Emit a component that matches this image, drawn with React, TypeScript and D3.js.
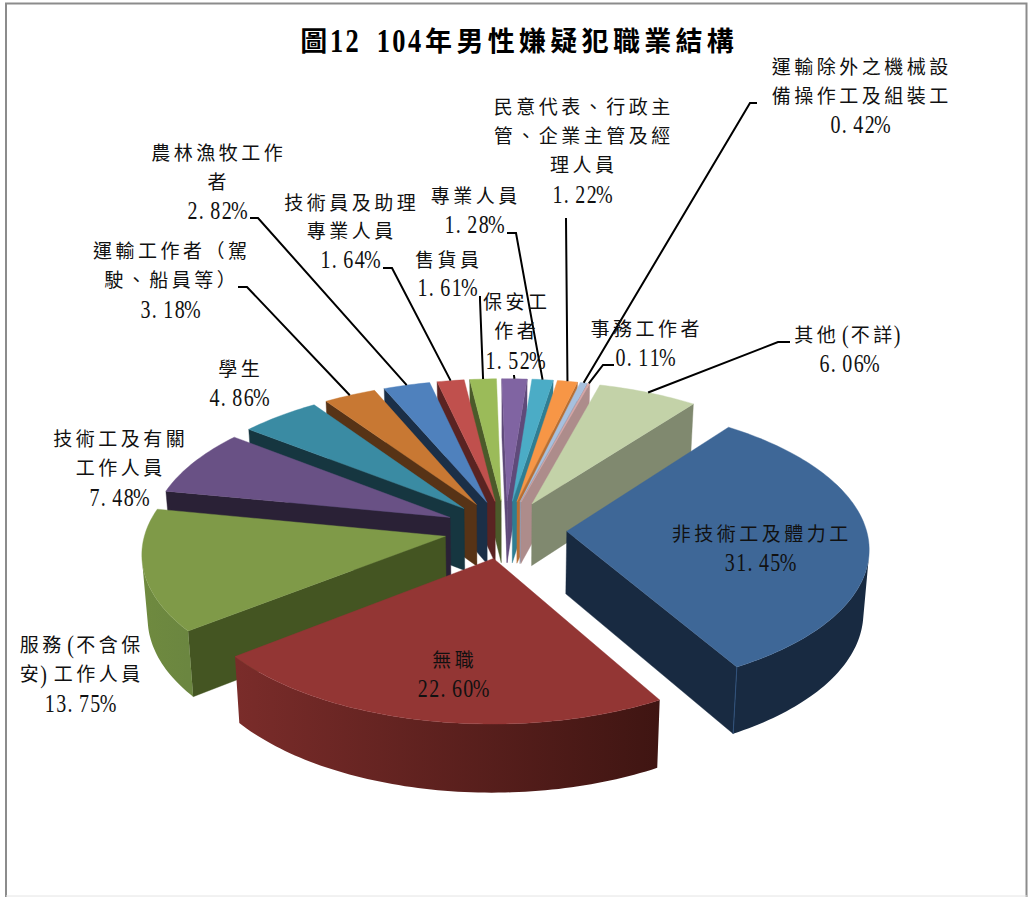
import React from "react";
import * as d3 from "d3";

const W = 1028, H = 897;
const categories = ["非技術工及體力工","無職","服務(不含保安)工作人員","技術工及有關工作人員","學生","運輸工作者（駕駛、船員等）","農林漁牧工作者","技術員及助理專業人員","售貨員","保安工作者","專業人員","民意代表、行政主管、企業主管及經理人員","運輸除外之機械設備操作工及組裝工","事務工作者","其他(不詳)"];
const values = [31.45,22.60,13.75,7.48,4.86,3.18,2.82,1.64,1.61,1.52,1.28,1.22,0.42,0.11,6.06];
const topColors = ["#3E6797","#933634","#7F9A48","#695185","#3A8BA3","#C87833","#4F81BD","#C0504D","#9BBB59","#8064A2","#4BACC6","#F79646","#A7C0DE","#D9A6A5","#C3D2A8"];
const wallColors = ["#182A41","#4a1714","#445522","#2A2136","#163640","#573316","#1B2F47","#5A2322","#4B5A2A","#5F4A7A","#2F7D92","#B86F33","#8E9DB5","#AD8C8B","#80896F"];
const rimFrom = ["#182A41","#3F1512","#6B8640","#2A2136","#163640","#573316","#1B2F47","#5A2322","#4B5A2A","#5F4A7A","#2F7D92","#B86F33","#8E9DB5","#AD8C8B","#80896F"];
const rimTo = ["#182A41","#7A2C2A","#6F8A3F","#2A2136","#163640","#573316","#1B2F47","#5A2322","#4B5A2A","#5F4A7A","#2F7D92","#B86F33","#8E9DB5","#AD8C8B","#80896F"];
const titleText = "圖12 104年男性嫌疑犯職業結構";

// label layout: [lines, centre x, first-line centre y, line gap]
const labelLayout: [string[], number, number, number][] = [
  [["非技術工及體力工","31.45%"],760,534,29],
  [["無職","22.60%"],453,660,29],
  [["服務(不含保","安)工作人員","13.75%"],80,645,29.5],
  [["技術工及有關","工作人員","7.48%"],119,439,29.5],
  [["學生","4.86%"],239,369,29],
  [["運輸工作者（駕","駛、船員等）","3.18%"],170,251,29.5],
  [["農林漁牧工作","者","2.82%"],217,153,29],
  [["技術員及助理","專業人員","1.64%"],350,203,28.5],
  [["售貨員","1.61%"],447,260,28],
  [["保安工","作者","1.52%"],515,302,29.5],
  [["專業人員","1.28%"],474,196,29],
  [["民意代表、行政主","管、企業主管及經","理人員","1.22%"],582,107,29.3],
  [["運輸除外之機械設","備操作工及組裝工","0.42%"],860,67,29],
  [["事務工作者","0.11%"],645,329,29],
  [["其他(不詳)","6.06%"],849,335,29],
];
// leader start points (slice index, stub start, elbow)
const leaderLayout: [number, number, number, number, number][] = [
  [5,238,287,247,287],[6,250,218,258,218],[7,383,268,392,268],[8,480,296,480,300],[9,514,375,514,376],
  [10,507,233,516,233],[11,566,218,566,219],[12,757,103,750,103],[13,614,365,603,365],[14,790,342,778,342],
];

// projection of the pie plane: cx, cy, A, B, perspective, explosion, first angle (deg)
const params = [505.4,529.4,299.5,141.2,0.107,0.205,37.09];
const DEPTH = 62.5, SHRINK = 0.984;

function arcsFor(t0deg: number) {
  const t0 = t0deg*Math.PI/180;
  return d3.pie<number>().sort(null).startAngle(t0).endAngle(t0+2*Math.PI)(values);
}
function proj(mid: number, th: number, r: number) {
  const p = params;
  const X = p[5]*Math.sin(mid)+r*Math.sin(th), Y = -p[5]*Math.cos(mid)-r*Math.cos(th);
  const s = 1/(1-p[4]*Y);
  return [p[0]+p[2]*X*s, p[1]+p[3]*Y*s, s];
}
const bottomOf = (q:number[]) => [params[0]+(q[0]-params[0])*SHRINK, params[1]+(q[1]-params[1])*SHRINK+DEPTH*q[2]];
const signed = (pts:number[][]) => { let a=0; pts.forEach((q,i)=>{const n=pts[(i+1)%pts.length]; a+=q[0]*n[1]-n[0]*q[1];}); return a; };
const line = d3.line<number[]>().x(d=>d[0]).y(d=>d[1]);
const poly = (pts:number[][]) => line(pts)+"Z";

function TextLine({s,cx,y,cjk,asc,fs,afs,fill,weight}:{s:string,cx:number,y:number,cjk:number,asc:number,fs:number,afs:number,fill:string,weight:number}) {
  const isA=(c:string)=>c.charCodeAt(0)<128;
  const chars=[...s]; const total=chars.reduce((t,c)=>t+(isA(c)?asc:cjk),0);
  const runs:{a:boolean,c:string[],x:number}[]=[]; let x=cx-total/2;
  chars.forEach(c=>{const a=isA(c); const last=runs[runs.length-1]; if(last&&last.a===a) last.c.push(c); else runs.push({a,c:[c],x}); x+=a?asc:cjk;});
  const nudge=(c:string)=> c==="("?asc*0.38 : c==="%"?-afs*0.06 : c===")"?-asc*0.02 : asc*0.04;
  return <>{runs.map((r,i)=>r.a
    ? <text key={i} transform={`translate(${r.x-(r.c.includes("%")?1.5:0)},${y+afs*0.33}) scale(0.8,1)`} x={r.c.map((c,j)=>(j*asc+nudge(c))/0.8).join(" ")} fontFamily="'Liberation Serif'" fontSize={afs} fill={fill} fontWeight={weight}>{r.c.join("")}</text>
    : <text key={i} x={r.c.map((_,j)=>r.x+j*cjk+(cjk-fs)/2).join(" ")} y={y+fs*0.36} fontFamily="'Noto Sans CJK TC'" fontSize={fs} fill={fill} fontWeight={weight}>{r.c.join("")}</text>)}</>;
}

export default function App() {
  const arcs = arcsFor(params[6]);
  const mids = arcs.map(a=>(a.startAngle+a.endAngle)/2);
  const order = d3.range(values.length).sort((a,b)=>Math.cos(mids[b])-Math.cos(mids[a]));
  return (
    <svg width={W} height={H} style={{position:"fixed",left:0,top:0,background:"#fff"}}>
      <rect x={6} y={3.5} width={1020.5} height={900} fill="#fff" stroke="#8c8c8c" strokeWidth={2}/>
      <line x1={6} x2={1027} y1={896} y2={896} stroke="#e4e4e4"/>
      <TextLine s={titleText} cx={517} y={41} cjk={31.3} asc={15.6} fs={27} afs={33} fill="#000" weight={700}/>
      {order.map(i=>{
        const a=arcs[i], m=mids[i];
        const n=Math.max(2,Math.ceil((a.endAngle-a.startAngle)/0.02));
        const ths=d3.range(n+1).map(k=>a.startAngle+(a.endAngle-a.startAngle)*k/n);
        const rim=ths.map(t=>proj(m,t,1));
        const ap=proj(m,0,0);
        const apB=bottomOf(ap);
        const startW=[ap,rim[0],bottomOf(rim[0]),apB];
        const endW=[ap,rim[n],bottomOf(rim[n]),apB];
        const front=d3.range(n).filter(k=>signed([rim[k],rim[k+1],bottomOf(rim[k+1]),bottomOf(rim[k])])<0);
        const fk=front.length?[...front,front[front.length-1]+1]:[];
        const gid=`rim${i}`;
        return <g key={i}>
          {signed(startW)<0&&<path d={poly(startW)} fill={wallColors[i]} stroke={wallColors[i]} strokeWidth={0.4}/>}
          {signed(endW)>0&&<path d={poly(endW)} fill={wallColors[i]} stroke={wallColors[i]} strokeWidth={0.4}/>}
          {fk.length>0&&<>
            <linearGradient id={gid} gradientUnits="userSpaceOnUse" x1={rim[fk[0]][0]} y1={0} x2={rim[fk[fk.length-1]][0]} y2={0}>
              <stop offset="0" stopColor={rimFrom[i]}/><stop offset="1" stopColor={rimTo[i]}/>
            </linearGradient>
            <path d={poly([...fk.map(k=>rim[k]),...fk.slice().reverse().map(k=>bottomOf(rim[k]))])} fill={`url(#${gid})`}/>
          </>}
          {i===0&&<path d={line([rim[n],bottomOf(rim[n])])!} stroke="#30527c" strokeWidth={1}/>}
          <path d={poly([ap,...rim])} fill={topColors[i]} stroke={topColors[i]} strokeWidth={0.4}/>
        </g>;
      })}
      {leaderLayout.map(([i,x0,y0,x1,y1])=>{
        const q=proj(mids[i],mids[i],1);
        return <path key={i} d={line([[x0,y0],[x1,y1],[q[0],q[1]]])!} fill="none" stroke="#000" strokeWidth={2}/>;
      })}
      {labelLayout.map(([lines,cx,y,gap],i)=>lines.map((s,j)=>
        <TextLine key={i+"-"+j} s={s} cx={cx} y={y+j*gap} cjk={22.5} asc={11.4} fs={19} afs={25} fill="#111" weight={400}/>
      ))}
    </svg>
  );
}
